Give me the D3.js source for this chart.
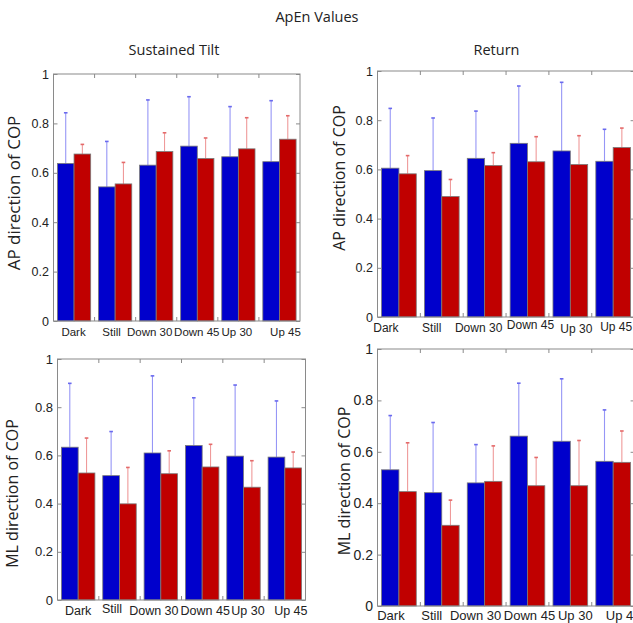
<!DOCTYPE html>
<html>
<head>
<meta charset="utf-8">
<script src="https://cdn.jsdelivr.net/npm/d3@7"></script>
<style>
  body { margin: 0; background: #fff; }
  svg { display: block; }
</style>
</head>
<body>
<div id="chart"></div>
<script>
// ---- data ----
var categories = ["Dark", "Still", "Down 30", "Down 45", "Up 30", "Up 45"];
var yTicks = [0, 0.2, 0.4, 0.6, 0.8, 1];
var yTickLabels = ["0", "0.2", "0.4", "0.6", "0.8", "1"];
var mainTitle = "ApEn Values";
var columnTitles = ["Sustained Tilt", "Return"];
var rowLabels = ["AP direction of COP", "ML direction of COP"];

// Sustained Tilt, AP
var tiltApBlue   = [0.638, 0.543, 0.631, 0.708, 0.665, 0.645];
var tiltApBlueSd = [0.205, 0.184, 0.264, 0.200, 0.203, 0.247];
var tiltApRed    = [0.676, 0.555, 0.686, 0.658, 0.697, 0.736];
var tiltApRedSd  = [0.039, 0.087, 0.076, 0.083, 0.126, 0.095];

// Return, AP
var returnApBlue   = [0.605, 0.595, 0.645, 0.706, 0.675, 0.633];
var returnApBlueSd = [0.243, 0.214, 0.192, 0.233, 0.279, 0.130];
var returnApRed    = [0.582, 0.490, 0.616, 0.631, 0.620, 0.689];
var returnApRedSd  = [0.074, 0.069, 0.052, 0.102, 0.117, 0.079];

// Sustained Tilt, ML
var tiltMlBlue   = [0.634, 0.516, 0.610, 0.641, 0.597, 0.593];
var tiltMlBlueSd = [0.265, 0.183, 0.320, 0.198, 0.295, 0.233];
var tiltMlRed    = [0.527, 0.399, 0.524, 0.552, 0.468, 0.548];
var tiltMlRedSd  = [0.145, 0.151, 0.095, 0.094, 0.110, 0.066];

// Return, ML
var returnMlBlue   = [0.530, 0.441, 0.479, 0.661, 0.641, 0.563];
var returnMlBlueSd = [0.211, 0.273, 0.149, 0.206, 0.243, 0.200];
var returnMlRed    = [0.445, 0.314, 0.485, 0.468, 0.468, 0.559];
var returnMlRedSd  = [0.190, 0.098, 0.138, 0.110, 0.176, 0.122];

// ---- layout (the four pasted-together panels are all a bit different) ----
var width = 633, height = 623;
var panels = [
  { blue: tiltApBlue, blueSd: tiltApBlueSd, red: tiltApRed, redSd: tiltApRedSd,
    ylab: rowLabels[0], left: 53.5, right: 300, top: 74, bottom: 321,
    tickFont: 12.5, catFont: 11.5, ylabFont: 17, ylabX: 13.5, ylabY: 193,
    catY: 336, catDx: [-0.5, -3.5, -6.5, -0.5, -1.5, 6], catDy: [0, 0, 0, 0, 0, 0] },
  { blue: returnApBlue, blueSd: returnApBlueSd, red: returnApRed, redSd: returnApRedSd,
    ylab: rowLabels[0], left: 377.5, right: 634.6, top: 71, bottom: 317,
    tickFont: 12.5, catFont: 12, ylabFont: 16, ylabX: 338.5, ylabY: 178,
    catY: 331.5, catDx: [-13, -10, -6, 3, 6, 3], catDy: [0, 0, 0, -3, 1, -1] },
  { blue: tiltMlBlue, blueSd: tiltMlBlueSd, red: tiltMlRed, redSd: tiltMlRedSd,
    ylab: rowLabels[1], left: 57.5, right: 305.5, top: 359, bottom: 600,
    tickFont: 13, catFont: 12.5, ylabFont: 16, ylabX: 12, ylabY: 493.5,
    catY: 615, catDx: [0, -7.5, -7, 3, 4.5, 6], catDy: [0, -1.7, 0, 0, 0, 0] },
  { blue: returnMlBlue, blueSd: returnMlBlueSd, red: returnMlRed, redSd: returnMlRedSd,
    ylab: rowLabels[1], left: 377.5, right: 634.6, top: 349, bottom: 606,
    tickFont: 14, catFont: 13, ylabFont: 16, ylabX: 343.5, ylabY: 481,
    catY: 619.5, catDx: [-8, -10, -9, 2, 5, 10], catDy: [0, 0, 0, 0, 0, 0] }
];

var blueFill = "#0000cc", redFill = "#c00000";
var blueErr = "#9696f6", redErr = "#ef9a9a";
var frameColor = "#8a8a8a";
var titleFont = "'Open Sans', sans-serif";
var tickFontFamily = "'Liberation Sans', Arial, sans-serif";

var svg = d3.select("#chart")
  .append("svg")
    .attr("width", width)
    .attr("height", height);

// titles
svg.append("text")
  .attr("x", 317).attr("y", 22)
  .attr("text-anchor", "middle")
  .style("font-family", titleFont).style("font-size", "14.5px").style("fill", "#222")
  .text(mainTitle);

svg.append("text")
  .attr("x", 174).attr("y", 55)
  .attr("text-anchor", "middle")
  .style("font-family", titleFont).style("font-size", "14.5px").style("fill", "#222")
  .text(columnTitles[0]);

svg.append("text")
  .attr("x", 496.5).attr("y", 55)
  .attr("text-anchor", "middle")
  .style("font-family", titleFont).style("font-size", "14.5px").style("fill", "#222")
  .text(columnTitles[1]);

panels.forEach(function(p) {
  var g = svg.append("g");

  var x = d3.scaleBand()
    .domain(categories)
    .range([p.left, p.right])
    .paddingInner(0.19)
    .paddingOuter(0.095);

  var xSub = d3.scaleBand()
    .domain(["blue", "red"])
    .range([0, x.bandwidth()]);

  var y = d3.scaleLinear()
    .domain([0, 1])
    .range([p.bottom, p.top]);

  // one row per bar
  var rows = [];
  categories.forEach(function(c, i) {
    rows.push({ cat: c, key: "blue", v: p.blue[i], sd: p.blueSd[i] });
    rows.push({ cat: c, key: "red", v: p.red[i], sd: p.redSd[i] });
  });

  // error bars first, bars drawn over them
  g.selectAll(".err")
    .data(rows)
    .enter()
    .append("line")
      .attr("x1", function(d) { return x(d.cat) + xSub(d.key) + xSub.bandwidth() / 2; })
      .attr("x2", function(d) { return x(d.cat) + xSub(d.key) + xSub.bandwidth() / 2; })
      .attr("y1", function(d) { return y(d.v); })
      .attr("y2", function(d) { return y(d.v + d.sd); })
      .attr("stroke", function(d) { return d.key == "blue" ? blueErr : redErr; })
      .attr("stroke-width", 1.1);

  g.selectAll(".cap")
    .data(rows)
    .enter()
    .append("line")
      .attr("x1", function(d) { return x(d.cat) + xSub(d.key) + xSub.bandwidth() / 2 - 1.8; })
      .attr("x2", function(d) { return x(d.cat) + xSub(d.key) + xSub.bandwidth() / 2 + 1.8; })
      .attr("y1", function(d) { return y(d.v + d.sd); })
      .attr("y2", function(d) { return y(d.v + d.sd); })
      .attr("stroke", function(d) { return d.key == "blue" ? "#6a6aee" : "#e46a6a"; })
      .attr("stroke-width", 1.6);

  g.selectAll(".bar")
    .data(rows)
    .enter()
    .append("rect")
      .attr("x", function(d) { return x(d.cat) + xSub(d.key); })
      .attr("y", function(d) { return y(d.v); })
      .attr("width", xSub.bandwidth())
      .attr("height", function(d) { return y(0) - y(d.v); })
      .attr("fill", function(d) { return d.key == "blue" ? blueFill : redFill; })
      .attr("stroke", "#7a7a7a")
      .attr("stroke-width", 0.8);

  // frame
  g.append("rect")
    .attr("x", p.left).attr("y", p.top)
    .attr("width", p.right - p.left).attr("height", p.bottom - p.top)
    .attr("fill", "none")
    .attr("stroke", frameColor)
    .attr("stroke-width", 1);

  // y axis, inward ticks
  var yAxis = g.append("g")
    .attr("transform", "translate(" + p.left + ",0)")
    .call(d3.axisLeft(y)
      .tickValues(yTicks)
      .tickFormat(function(d, i) { return yTickLabels[i]; })
      .tickSize(-4)
      .tickPadding(4.5));
  yAxis.select(".domain").remove();
  yAxis.selectAll("line").attr("stroke", frameColor);
  yAxis.selectAll("text")
    .style("font-family", tickFontFamily)
    .style("font-size", p.tickFont + "px")
    .style("fill", "#222");

  var yAxisR = g.append("g")
    .attr("transform", "translate(" + p.right + ",0)")
    .call(d3.axisRight(y).tickValues(yTicks).tickFormat("").tickSize(-4));
  yAxisR.select(".domain").remove();
  yAxisR.selectAll("line").attr("stroke", frameColor);

  // ticks between groups, top and bottom
  var bounds = categories.slice(1).map(function(c) { return x(c) - x.step() * x.paddingInner() / 2; });
  g.selectAll(".tt")
    .data(bounds)
    .enter()
    .append("line")
      .attr("x1", function(d) { return d; }).attr("x2", function(d) { return d; })
      .attr("y1", p.top).attr("y2", p.top + 4)
      .attr("stroke", frameColor);
  g.selectAll(".bt")
    .data(bounds)
    .enter()
    .append("line")
      .attr("x1", function(d) { return d; }).attr("x2", function(d) { return d; })
      .attr("y1", p.bottom).attr("y2", p.bottom - 4)
      .attr("stroke", frameColor);

  // category labels (hand-nudged like the original)
  var xAxis = g.append("g")
    .attr("transform", "translate(0," + p.bottom + ")")
    .call(d3.axisBottom(x).tickSize(0));
  xAxis.select(".domain").remove();
  xAxis.selectAll("text")
    .attr("y", function(d, i) { return p.catY - p.bottom + p.catDy[i]; })
    .attr("dy", 0)
    .attr("dx", function(d, i) { return p.catDx[i]; })
    .style("font-family", tickFontFamily)
    .style("font-size", p.catFont + "px")
    .style("fill", "#222");

  // y label
  g.append("text")
    .attr("transform", "translate(" + p.ylabX + "," + p.ylabY + ") rotate(-90)")
    .attr("text-anchor", "middle")
    .attr("dominant-baseline", "central")
    .style("font-family", titleFont)
    .style("font-size", p.ylabFont + "px")
    .style("fill", "#222")
    .text(p.ylab);
});
</script>
</body>
</html>
